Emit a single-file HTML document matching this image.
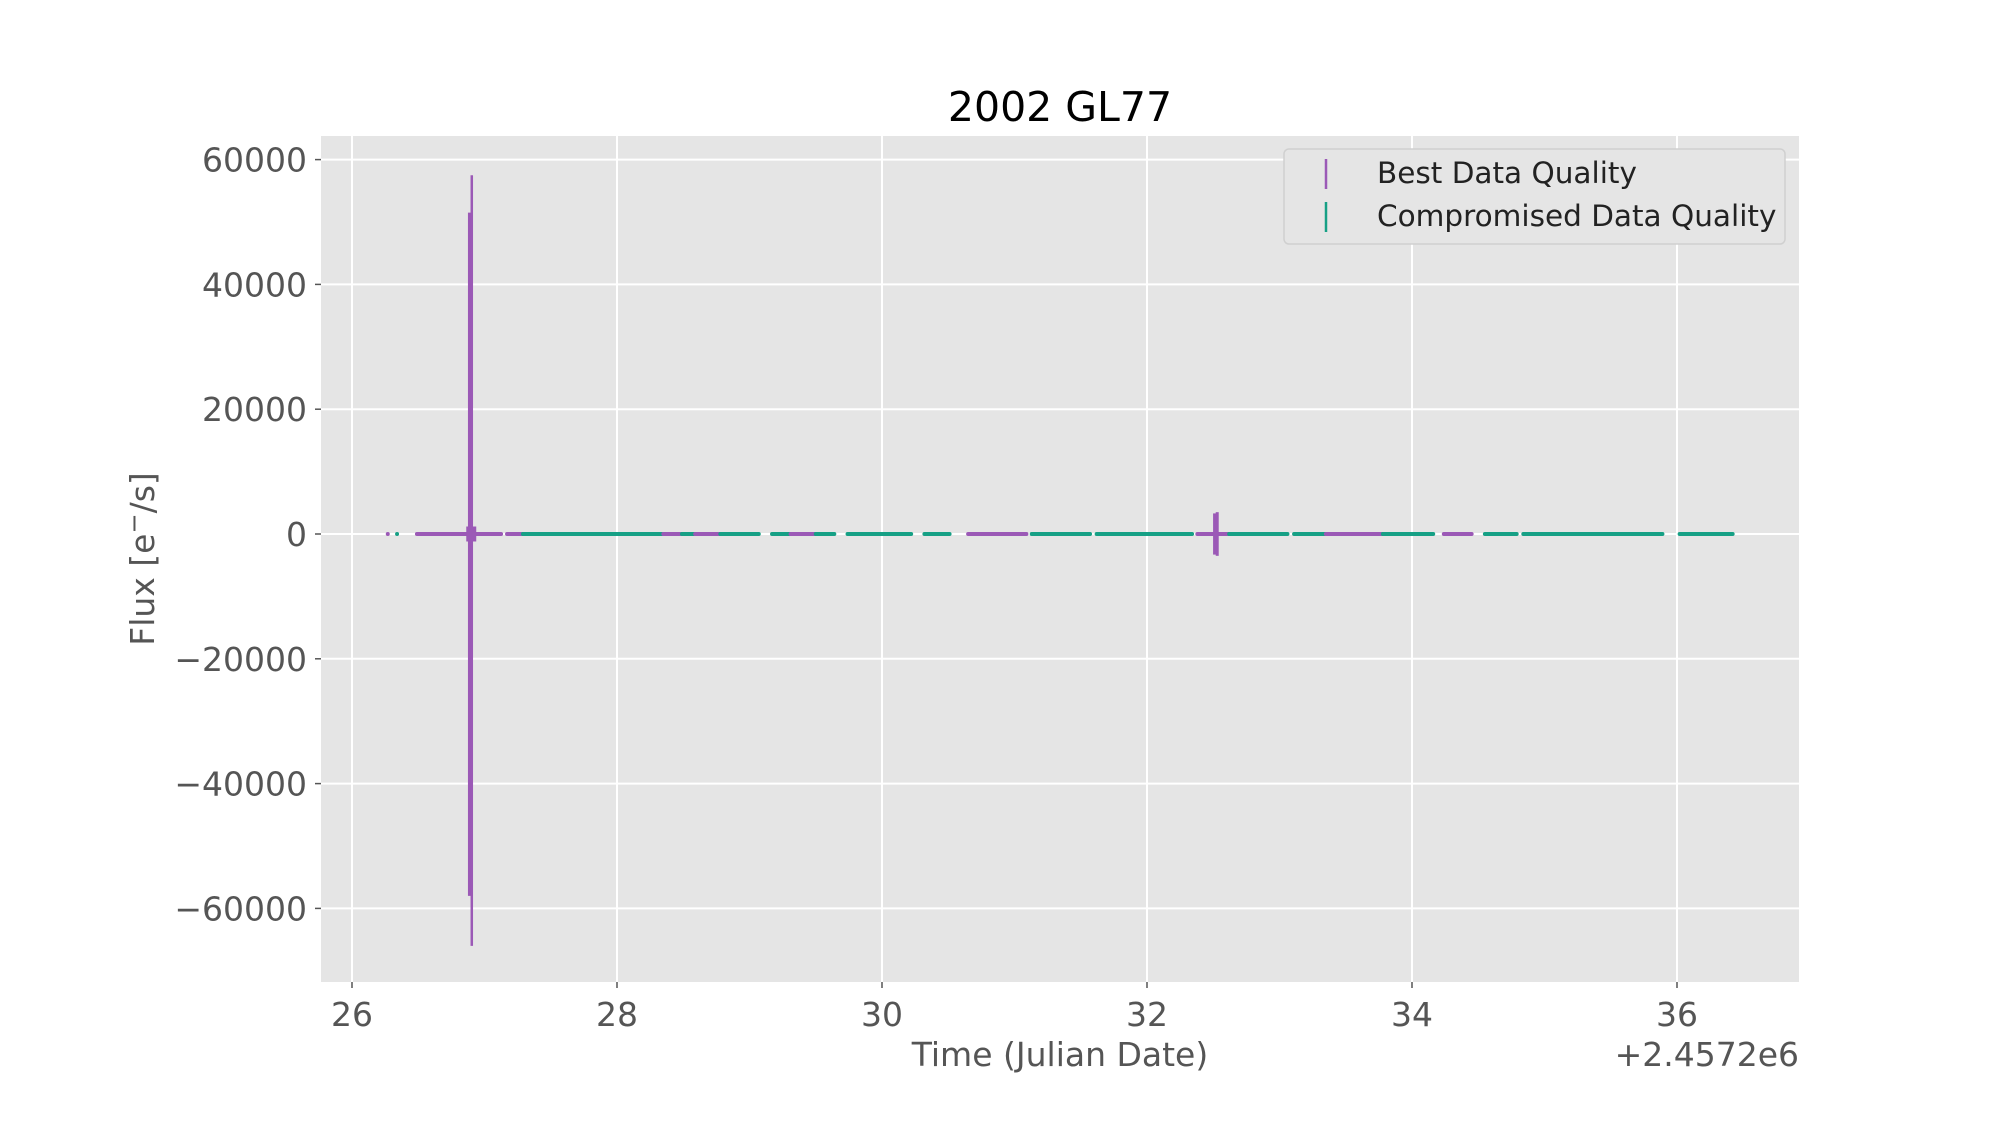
<!DOCTYPE html>
<html><head><meta charset="utf-8"><style>
body{margin:0;background:#fff}
svg text{font-family:"DejaVu Sans","Liberation Sans",sans-serif}
</style></head><body>
<svg id="chart" width="1999" height="1125" viewBox="0 0 1999 1125" xmlns="http://www.w3.org/2000/svg">
<rect width="1999" height="1125" fill="#fff"/>
<rect x="321" y="136" width="1478" height="846" fill="#e5e5e5"/>
<g id="grid"></g>
<g id="data"></g>
<g id="axes"></g>
<text x="1060" y="121" font-size="41" text-anchor="middle" fill="#000">2002 GL77</text>
<text x="1060" y="1066" font-size="33" text-anchor="middle" fill="#555">Time (Julian Date)</text>
<text x="1799" y="1066" font-size="33" text-anchor="end" fill="#555">+2.4572e6</text>
<text transform="translate(154,559) rotate(-90)" x="0" y="0" font-size="33" text-anchor="middle" fill="#555">Flux [e<tspan font-size="24" dy="-12">−</tspan><tspan dy="12">/s]</tspan></text>
<g>
<rect x="1284" y="149" width="501" height="95" rx="5" fill="#e5e5e5" stroke="#d0d0d0" stroke-width="1.5"/>
<line x1="1326" y1="159" x2="1326" y2="189" stroke="#9b59b6" stroke-width="2.5"/>
<text x="1377" y="183" font-size="29.5" fill="#222">Best Data Quality</text>
<line x1="1326" y1="202" x2="1326" y2="232" stroke="#16a085" stroke-width="2.5"/>
<text x="1377" y="226" font-size="29.5" fill="#222">Compromised Data Quality</text>
</g>
</svg>
<script>
const xTicks=[26,28,30,32,34,36];
const yTicks=[-60000,-40000,-20000,0,20000,40000,60000];
const yTickLabels=["−60000","−40000","−20000","0","20000","40000","60000"];
const segStart=[26.27,26.34,26.49,27.17,27.29,28.35,28.49,28.59,28.78,29.17,29.31,29.50,29.74,30.32,30.65,31.13,31.62,32.38,32.62,33.11,33.35,33.78,34.24,34.55,34.84,36.02];
const segEnd  =[26.27,26.34,27.125,27.29,28.35,28.49,28.59,28.78,29.07,29.31,29.50,29.64,30.22,30.51,31.09,31.57,32.34,32.62,33.06,33.35,33.78,34.16,34.45,34.79,35.89,36.42];
const segBest =[1,0,1,1,0,1,0,1,0,0,1,0,0,0,1,0,0,1,0,0,1,0,1,0,0,0];
const spikeT=[26.894,26.904,26.9,32.51,32.53];
const spikeLo=[-58000,-66000,-1200,-3300,-3500];
const spikeHi=[51500,57500,1200,3300,3500];
const spikeW=[5,2.5,10,3,3];
const NS="http://www.w3.org/2000/svg";
const X=t=>352+(t-26)*132.5;
const Y=f=>534-f*(124.8/20000);
function mk(tag,attrs,parent){const e=document.createElementNS(NS,tag);for(const k in attrs)e.setAttribute(k,attrs[k]);document.getElementById(parent).appendChild(e);return e;}
xTicks.forEach(t=>{
 const g=mk('line',{x1:X(t),x2:X(t),y1:136,y2:982,stroke:'#fff','stroke-width':2},'grid');
 
 
 const k=mk('line',{x1:X(t),x2:X(t),y1:982,y2:988,stroke:'#555','stroke-width':1.5},'axes');
 
 
 const l=mk('text',{x:X(t),y:1026,'font-size':33,'text-anchor':'middle',fill:'#555'},'axes');
 l.textContent=t;
 
 
});
yTicks.forEach((v,i)=>{
 const g=mk('line',{x1:321,x2:1799,y1:Y(v),y2:Y(v),stroke:'#fff','stroke-width':2},'grid');
 
 
 const k=mk('line',{x1:315,x2:321,y1:Y(v),y2:Y(v),stroke:'#555','stroke-width':1.5},'axes');
 
 
 const l=mk('text',{x:307,y:Y(v)+12,'font-size':33,'text-anchor':'end',fill:'#555'},'axes');
 l.textContent=yTickLabels[i];
 
 
});
segStart.forEach((s,i)=>{
 const e=mk('line',{x1:X(s),x2:X(segEnd[i]),y1:Y(0),y2:Y(0),stroke:segBest[i]?'#9b59b6':'#16a085','stroke-width':4,'stroke-linecap':'round'},'data');
 
 
});
spikeT.forEach((t,i)=>{
 const e=mk('line',{x1:X(t),x2:X(t),y1:Y(spikeHi[i]),y2:Y(spikeLo[i]),stroke:'#9b59b6','stroke-width':spikeW[i]},'data');
 
 
});
</script>
</body></html>
